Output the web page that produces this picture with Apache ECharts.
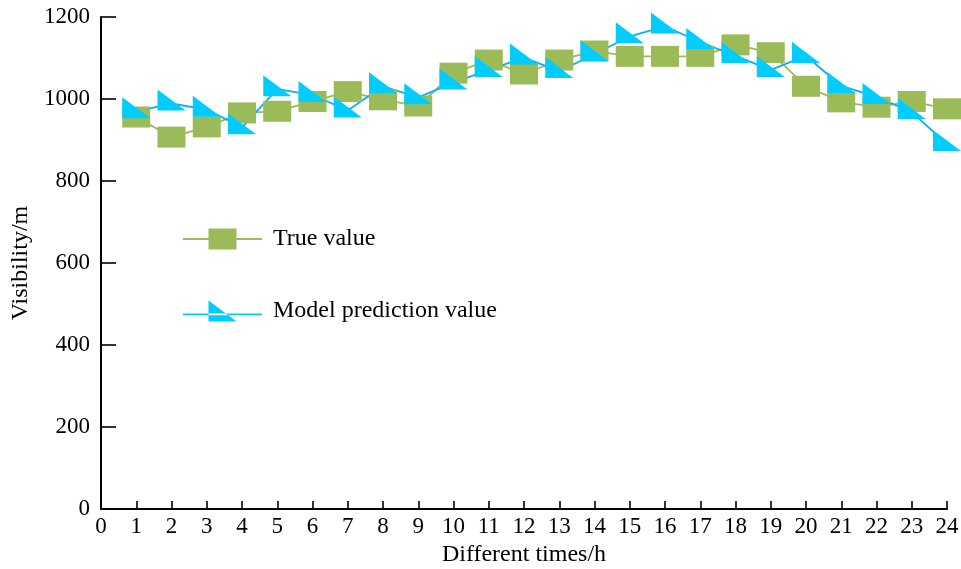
<!DOCTYPE html>
<html>
<head>
<meta charset="utf-8">
<script src="https://cdn.jsdelivr.net/npm/echarts@6/dist/echarts.min.js"></script>
<style>
html,body{margin:0;padding:0;background:#fff;}
#chart{width:961px;height:569px;}
</style>
</head>
<body>
<div id="chart"></div>
<script>
var hours = [1,2,3,4,5,6,7,8,9,10,11,12,13,14,15,16,17,18,19,20,21,22,23,24];
var trueValue = [956,907,932,966,970,994,1018,998,983,1063,1095,1061,1095,1117,1104,1104,1104,1132,1113,1031,993,980,994,976];
var predictedValue = [970,989,974,931,1024,1010,972,1031,1004,1040,1071,1101,1068,1109,1153,1177,1139,1105,1071,1105,1032,1005,968,890];
var seriesNames = ['True value','Model prediction value'];
var xAxisName = 'Different times/h';
var yAxisName = 'Visibility/m';

var FONT = '"Liberation Serif","Times New Roman",serif';
var green = '#9BBB59';
var cyan = '#00CCFF';
var blueLine = '#12AEEA';

function pairs(vals){ return hours.map(function(h,i){ return [h, vals[i]]; }); }

var chart = echarts.init(document.getElementById('chart'), null, {renderer:'canvas'});
chart.setOption({
  animation:false,
  backgroundColor:'#fff',
  grid:{left:101,right:14,top:17,bottom:60,containLabel:false,outerBoundsMode:'none'},
  legend:{
    orient:'vertical',
    left:183, top:227, padding:0,
    itemWidth:79, itemHeight:21, itemGap:48,
    textStyle:{fontFamily:FONT,fontSize:24,color:'#000',padding:[0,0,0,6]},
    data:[
      {name:seriesNames[0], icon:'path://M0,9.6 H79 V11.4 H0 Z M25.5,0 H53.5 V21 H25.5 Z', itemStyle:{color:green}},
      {name:seriesNames[1], icon:'path://M0,13 H79 V14.8 H0 Z M25.5,0 L25.5,21 L53.5,21 Z', itemStyle:{color:cyan}}
    ]
  },
  xAxis:{
    type:'value', min:0, max:24, interval:1,
    name:xAxisName, nameLocation:'middle', nameGap:32,
    nameTextStyle:{fontFamily:FONT,fontSize:24,color:'#000'},
    axisLine:{lineStyle:{color:'#000',width:2}},
    axisTick:{inside:true,length:8,lineStyle:{color:'#000',width:1.6}},
    axisLabel:{fontFamily:FONT,fontSize:23,color:'#000',margin:6},
    splitLine:{show:false}
  },
  yAxis:{
    type:'value', min:0, max:1200, interval:200,
    name:yAxisName, nameLocation:'middle', nameGap:58,
    nameTextStyle:{fontFamily:FONT,fontSize:24,color:'#000'},
    axisLine:{show:true,lineStyle:{color:'#000',width:2}},
    axisTick:{show:true,inside:true,length:15,lineStyle:{color:'#000',width:1.6}},
    axisLabel:{fontFamily:FONT,fontSize:23,color:'#000',margin:11,formatter:function(v){return String(v);}},
    splitLine:{show:false}
  },
  series:[
    {
      name:seriesNames[0], type:'line', data:pairs(trueValue),
      symbol:'rect', symbolSize:[28,21],
      itemStyle:{color:green},
      lineStyle:{color:green,width:1.8}
    },
    {
      name:seriesNames[1], type:'line', data:pairs(predictedValue),
      symbol:'path://M0,0 L0,21 L28,21 Z', symbolSize:[28,21], symbolOffset:[0,-3.5],
      itemStyle:{color:cyan},
      lineStyle:{color:blueLine,width:1.8}
    }
  ]
});
</script>
</body>
</html>
